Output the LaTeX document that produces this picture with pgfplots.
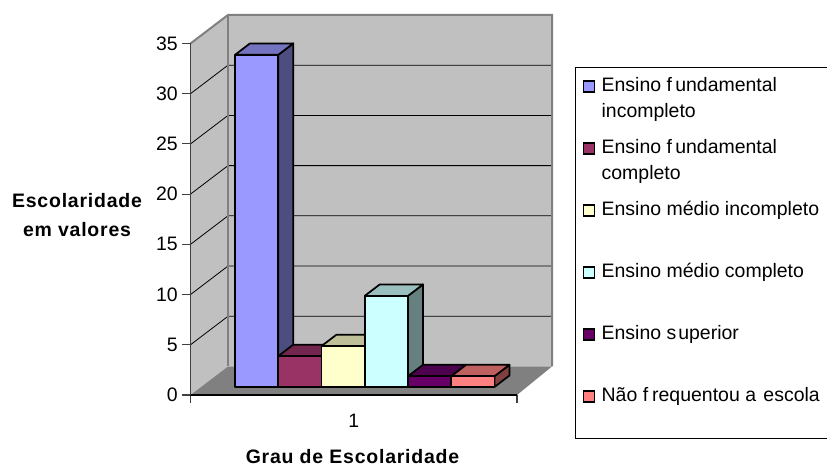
\documentclass[border=0pt]{standalone}
\usepackage{pgfplots}
\pgfplotsset{compat=1.18}
\usepackage{fontspec}
\setmainfont{Liberation Sans}
\newfontfamily\lblfont[LetterSpace=4]{Liberation Sans}
\definecolor{wall}{HTML}{C0C0C0}
\definecolor{floorc}{HTML}{808080}
\definecolor{a1}{HTML}{9999FF}\definecolor{a2}{HTML}{7373BF}\definecolor{a3}{HTML}{4D4D80}
\definecolor{b1}{HTML}{993366}\definecolor{b2}{HTML}{73264D}\definecolor{b3}{HTML}{4D1A33}
\definecolor{c1}{HTML}{FFFFCC}\definecolor{c2}{HTML}{BFBF99}\definecolor{c3}{HTML}{808066}
\definecolor{d1}{HTML}{CCFFFF}\definecolor{d2}{HTML}{99BFBF}\definecolor{d3}{HTML}{668080}
\definecolor{e1}{HTML}{660066}\definecolor{e2}{HTML}{4D004D}\definecolor{e3}{HTML}{330033}
\definecolor{f1}{HTML}{FF8080}\definecolor{f2}{HTML}{BF6060}\definecolor{f3}{HTML}{804040}
% x position, value, front, top, side
\newcommand{\threedbar}[5]{%
  \pgfmathsetmacro\xa{#1}\pgfmathsetmacro\xb{#1+43.25}%
  \pgfmathsetmacro\xc{#1+15}\pgfmathsetmacro\xd{#1+58.25}%
  \pgfmathsetmacro\ya{0.8}\pgfmathsetmacro\yb{#2+0.87}%
  \pgfmathsetmacro\yc{1.94}\pgfmathsetmacro\yd{#2+2.01}%
  \addplot[forget plot,fill=#5,draw=black,line width=1.3pt,line join=round] coordinates {(\xb,\ya)(\xd,\yc)(\xd,\yd)(\xb,\yb)} --cycle;
  \addplot[forget plot,fill=#4,draw=black,line width=1.3pt,line join=round] coordinates {(\xa,\yb)(\xb,\yb)(\xd,\yd)(\xc,\yd)} --cycle;
  \addplot[forget plot,fill=#3,draw=black,line width=1.3pt,line join=round] coordinates {(\xa,\ya)(\xb,\ya)(\xb,\yb)(\xa,\yb)} --cycle;
}
\newcommand{\gridat}[1]{%
  \pgfmathsetmacro\ya{#1}\pgfmathsetmacro\yb{#1+2.84}%
  \addplot[forget plot,black,line width=0.6pt] coordinates {(190.5,\ya)(228,\yb)(552,\yb)};
}
\newcommand{\ent}[1]{\rule[-34.5pt]{0pt}{46.5pt}\parbox[t]{190pt}{\baselineskip=19.5pt #1}}
\begin{document}
\begin{tikzpicture}
\useasboundingbox (-142.875pt,-53.25pt) rectangle (477.375pt,296.25pt);
\begin{axis}[
  scale only axis,width=244.875pt,height=263.625pt,
  xmin=190.5,xmax=517,ymin=0,ymax=35,
  clip=false,axis on top,
  axis x line=bottom,axis y line=left,
  axis line style={-,black!75,line width=0.8pt},
  x axis line style={black,line width=1.1pt},
  font=\fontsize{14.6}{19.5}\selectfont,
  /pgf/number format/assume math mode=true,
  ytick={0,5,...,35},
  xtick={190.5,517},xticklabels={,},
  extra x ticks={353.75},extra x tick labels={1},
  extra x tick style={major tick length=0pt,tick label style={yshift=-11pt}},
  tick style={black!75,line width=0.8pt},
  tick align=outside,major tick length=6pt,
  xtick pos=bottom,ytick pos=left,
  ylabel={\lblfont\bfseries Escolaridade\\[2pt]\lblfont\bfseries em valores},
  ylabel style={rotate=-90,align=center,anchor=center,at={(axis cs:77,17.9)},font=\fontsize{14.6}{19.5}\selectfont},
  xlabel={\lblfont\bfseries Grau de Escolaridade},
  xlabel style={anchor=center,at={(axis cs:352.5,-6.1)},font=\fontsize{14.6}{17}\selectfont,inner sep=0pt},
  legend image code/.code={\draw[#1,line width=1.1pt] (0.5pt,-0.5pt) rectangle (8.5pt,8pt);},
  legend cell align=left,
  legend style={at={(axis cs:575,32.66)},anchor=north west,draw=black,line width=0.8pt,
    inner xsep=5.5pt,inner ysep=6pt,row sep=0pt,column sep=5pt,
    nodes={inner sep=0pt,outer sep=0pt,text depth=,text height=},font=\fontsize{14.6}{19.5}\selectfont},
]
% walls and floor
\addplot[forget plot,fill=wall,draw=none] coordinates {(228,2.84)(552,2.84)(552,37.84)(228,37.84)} --cycle;
\addplot[forget plot,fill=wall,draw=none] coordinates {(190.5,0)(228,2.84)(228,37.84)(190.5,35)} --cycle;
\addplot[forget plot,fill=floorc,draw=none] coordinates {(190.5,0)(517,0)(552,2.84)(228,2.84)} --cycle;
\gridat{5}\gridat{10}\gridat{15}\gridat{20}\gridat{25}\gridat{30}
\addplot[forget plot,floorc,line width=1.5pt] coordinates {(190.5,35)(228,37.84)(552,37.84)(552,2.84)};
\addplot[forget plot,floorc,line width=1.5pt] coordinates {(228,37.84)(228,2.84)};
% bars
\threedbar{235}{33}{a1}{a2}{a3}
\threedbar{278.25}{3}{b1}{b2}{b3}
\threedbar{321.5}{4}{c1}{c2}{c3}
\threedbar{364.75}{9}{d1}{d2}{d3}
\threedbar{408}{1}{e1}{e2}{e3}
\threedbar{451.25}{1}{f1}{f2}{f3}
\addlegendimage{fill=a1,draw=black,yshift=11.25pt}\addlegendentry{\ent{Ensino f\kern2.5pt undamental\\incompleto}}
\addlegendimage{fill=b1,draw=black,yshift=11.25pt}\addlegendentry{\ent{Ensino f\kern2.5pt undamental\\completo}}
\addlegendimage{fill=c1,draw=black,yshift=11.25pt}\addlegendentry{\ent{Ensino médio incompleto}}
\addlegendimage{fill=d1,draw=black,yshift=11.25pt}\addlegendentry{\ent{Ensino médio completo}}
\addlegendimage{fill=e1,draw=black,yshift=11.25pt}\addlegendentry{\ent{Ensino s\kern1.5pt uperior}}
\addlegendimage{fill=f1,draw=black,yshift=4.875pt}\addlegendentry{\rule[-21.75pt]{0pt}{33.75pt}\parbox[t]{190pt}{Não f\kern3pt requentou a\kern1.5pt\ escola}}
\end{axis}
\end{tikzpicture}
\end{document}
